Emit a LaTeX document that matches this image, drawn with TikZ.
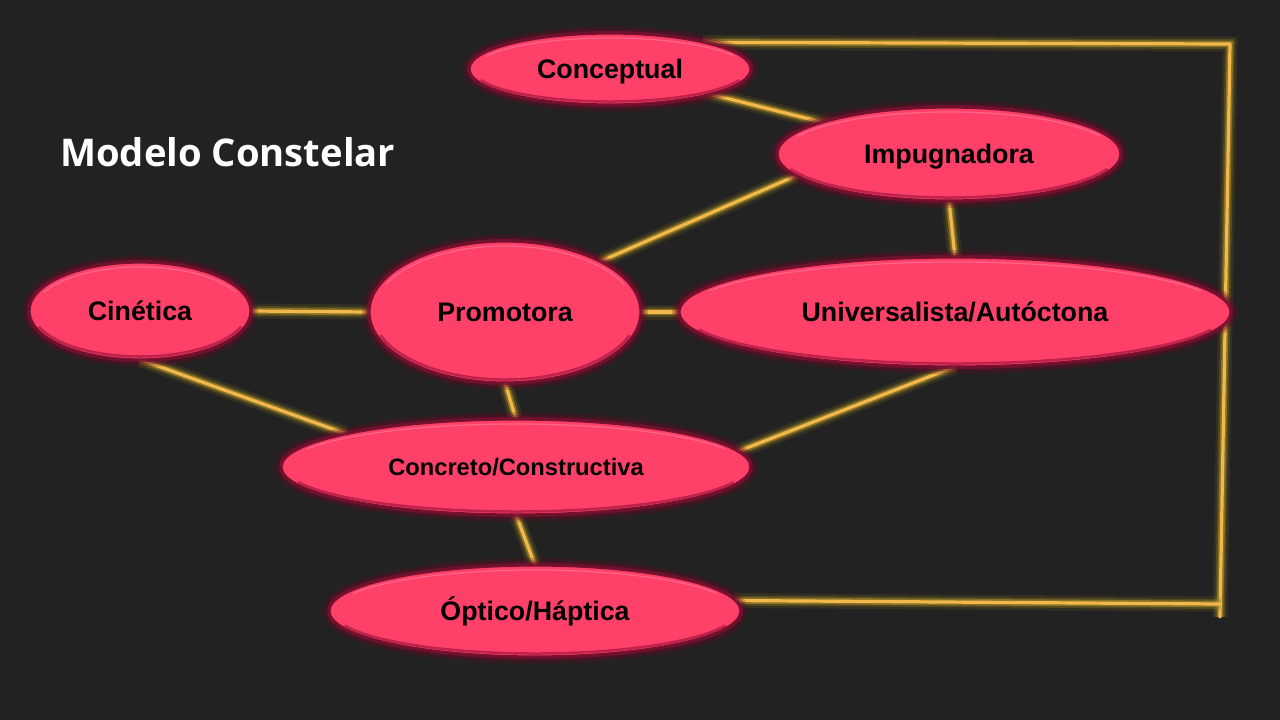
\documentclass[tikz,border=0pt]{standalone}
\usepackage{fontspec}
\setmainfont{Liberation Sans}
\newfontfamily\titlefont{Open Sans}
\usetikzlibrary{shapes.geometric,calc}
\pgfdeclarelayer{bg}
\pgfdeclarelayer{edges}
\pgfsetlayers{bg,edges,main}
\definecolor{bgc}{HTML}{222222}
\definecolor{pinkf}{HTML}{FF4169}
\definecolor{rim}{HTML}{7A1030}
\definecolor{glowd}{HTML}{5E0C24}
\definecolor{gold}{HTML}{F2B84B}
\definecolor{goldglow}{HTML}{9A8420}
\definecolor{hil}{HTML}{FF7F9B}
\definecolor{shd}{HTML}{B01C44}
\newcommand\ovalnode[7]{%
  \node[oval, minimum width=#4*2pt, minimum height=#5*2pt, #7] (#1) at (#2,-#3) {#6};
  \draw[hil, line width=1.2pt, opacity=.6]
    ($(#1.center)+({(#4-4)*cos(155)},{(#5-4)*sin(155)})$)
    arc[start angle=155, end angle=25, x radius=#4-4, y radius=#5-4];
  \draw[shd, line width=2.5pt, opacity=.8]
    ($(#1.center)+({(#4-2.5)*cos(200)},{(#5-2.5)*sin(200)})$)
    arc[start angle=200, end angle=340, x radius=#4-2.5, y radius=#5-2.5];
}
\begin{document}
\begin{tikzpicture}[x=1pt,y=1pt,
  oval/.style={ellipse, inner sep=0pt, fill=pinkf, draw=rim, line width=1.2pt,
    preaction={draw=glowd, line width=16pt, opacity=0.25},
    preaction={draw=glowd, line width=11pt, opacity=0.4},
    preaction={draw=rim, line width=6pt, opacity=0.8},
    font=\bfseries\fontsize{26.8}{30}\selectfont, text=black,
    text height=19pt, text depth=0pt},
  glow/.style={line cap=round, line join=round,
    preaction={draw=goldglow, line width=15pt, opacity=0.15},
    preaction={draw=goldglow, line width=10pt, opacity=0.3},
    preaction={draw=goldglow!70!gold, line width=6.5pt, opacity=0.55},
    draw=gold, line width=3.2pt}]
\useasboundingbox (0,0) rectangle (1280,-720);
\begin{pgfonlayer}{bg}
\fill[bgc] (0,0) rectangle (1280,-720);
\end{pgfonlayer}

\node[anchor=base west, text=white, font=\titlefont\bfseries\fontsize{38.2}{42}\selectfont, inner sep=0pt] (title) at (60,-166) {Modelo Constelar};

\ovalnode{concept}{610}{69}{140}{35}{Conceptual}{}
\ovalnode{imp}{949}{154}{171}{46}{Impugnadora}{}
\ovalnode{cin}{140}{311}{110}{48}{Cinética}{}
\ovalnode{prom}{505}{312}{135}{70}{Promotora}{}
\ovalnode{univ}{955}{312}{275}{54}{Universalista/Autóctona}{}
\ovalnode{conc}{516}{467}{234}{47}{Concreto/Constructiva}{font=\bfseries\fontsize{23.7}{27}\selectfont, text height=17pt}
\ovalnode{opt}{535}{611}{205}{45}{Óptico/Háptica}{}

\coordinate (tr) at (1230,-44);
\coordinate (bb) at (1220,-617);
\coordinate (bj) at (1221,-604);

\begin{pgfonlayer}{edges}
\draw[glow] (concept.center) -- (imp.center);
\draw[glow] (prom.28) -- (imp.188);
\draw[glow] (imp.south) -- (univ.north);
\draw[glow] (cin.east) -- (prom.west);
\draw[glow] (prom.east) -- (univ.west);
\draw[glow] (cin.south) -- (conc.169);
\draw[glow] (prom.south) -- (conc.north);
\draw[glow] (univ.south) -- (conc.4);
\draw[glow] (conc.south) -- (opt.north);
\draw[glow] (concept.16) -- (tr) -- (bb);
\draw[glow] (opt.3) -- (bj);
\end{pgfonlayer}
\end{tikzpicture}
\end{document}
